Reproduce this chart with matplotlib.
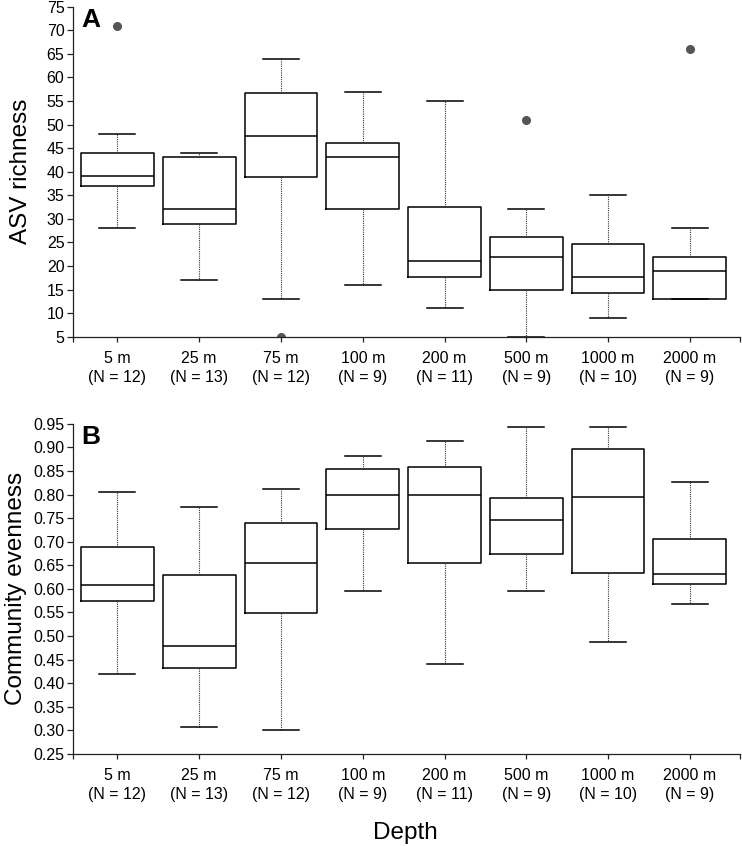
import matplotlib
matplotlib.use("Agg")
import matplotlib.pyplot as plt
import numpy as np

plt.rcParams["font.family"] = ["Liberation Sans", "DejaVu Sans"]

depths = ["5 m", "25 m", "75 m", "100 m", "200 m", "500 m", "1000 m", "2000 m"]
n_samples = [12, 13, 12, 9, 11, 9, 10, 9]

# ASV richness (panel A)
rich_lo = [28, 17, 13, 16, 11, 5, 9, 13]
rich_q1 = [37, 29, 38.9, 32, 17.6, 15, 14.3, 13]
rich_med = [39.2, 32.1, 47.6, 43.1, 21.1, 22, 17.6, 19]
rich_q3 = [44, 43.1, 56.8, 46.1, 32.6, 26.1, 24.6, 22]
rich_hi = [48, 44, 64, 57, 55, 32, 35, 28]
rich_out = [[71], [], [5], [], [], [51], [], [66]]

# Community evenness (panel B)
even_lo = [0.419, 0.306, 0.300, 0.595, 0.441, 0.595, 0.488, 0.567]
even_q1 = [0.574, 0.433, 0.548, 0.726, 0.654, 0.674, 0.633, 0.610]
even_med = [0.609, 0.478, 0.655, 0.800, 0.800, 0.745, 0.795, 0.631]
even_q3 = [0.688, 0.629, 0.740, 0.855, 0.858, 0.793, 0.896, 0.705]
even_hi = [0.805, 0.773, 0.812, 0.882, 0.913, 0.944, 0.944, 0.827]
even_out = [[], [], [], [], [], [], [], []]

XLIM = (0.454, 8.61)


def make_stats(lo, q1, med, q3, hi, out):
    return [
        dict(whislo=a, q1=b, med=c, q3=d, whishi=e, fliers=f)
        for a, b, c, d, e, f in zip(lo, q1, med, q3, hi, out)
    ]


def draw_panel(ax, stats, ylim, yticks, yfmt, ylabel, label_x, letter):
    ax.bxp(
        stats,
        positions=np.arange(1, len(stats) + 1),
        widths=0.89,
        capwidths=0.44,
        showfliers=True,
        boxprops=dict(color="black", linewidth=1.1),
        medianprops=dict(color="black", linewidth=1.1),
        whiskerprops=dict(color="#333333", linewidth=0.8, linestyle=(0, (1, 1))),
        capprops=dict(color="black", linewidth=1.1),
        flierprops=dict(marker="o", markerfacecolor="#555555",
                        markeredgecolor="#555555", markersize=5.5),
    )
    ax.set_xlim(*XLIM)
    ax.set_ylim(*ylim)
    ax.set_yticks(yticks)
    ax.set_yticklabels([yfmt.format(v) for v in yticks])
    ax.set_xticks(np.arange(1, len(depths) + 1))
    ax.set_xticklabels([f"{d}\n(N = {n})" for d, n in zip(depths, n_samples)],
                       linespacing=1.3)
    ax.set_xticks(list(XLIM), minor=True)
    for side in ("top", "right"):
        ax.spines[side].set_visible(False)
    for side in ("left", "bottom"):
        ax.spines[side].set_linewidth(0.9)
        ax.spines[side].set_color("#222222")
    ax.tick_params(axis="y", length=4.5, width=0.9, pad=1.5, labelsize=11.5,
                   colors="#222222", labelcolor="black")
    ax.tick_params(axis="x", which="both", length=3.5, width=0.9, pad=7,
                   labelsize=11.5, colors="#222222", labelcolor="black")
    ax.set_ylabel(ylabel, fontsize=17.5)
    ax.yaxis.set_label_coords(label_x, 0.5)
    ax.text(0.013, 0.995, letter, transform=ax.transAxes, fontsize=19,
            fontweight="bold", va="top", ha="left")


fig = plt.figure(figsize=(7.42, 8.46), dpi=100)
ax_a = fig.add_axes([0.098, 0.602, 0.899, 0.390])
ax_b = fig.add_axes([0.098, 0.109, 0.899, 0.390])

draw_panel(ax_a, make_stats(rich_lo, rich_q1, rich_med, rich_q3, rich_hi, rich_out),
           (5, 75), np.arange(5, 76, 5), "{:.0f}", "ASV richness", -0.061, "A")
draw_panel(ax_b, make_stats(even_lo, even_q1, even_med, even_q3, even_hi, even_out),
           (0.25, 0.95), np.round(np.arange(0.25, 0.951, 0.05), 2), "{:.2f}",
           "Community evenness", -0.068, "B")

fig.text(0.547, 0.0085, "Depth", fontsize=17.5, ha="center", va="baseline")

fig.savefig("out.png", dpi=100)
